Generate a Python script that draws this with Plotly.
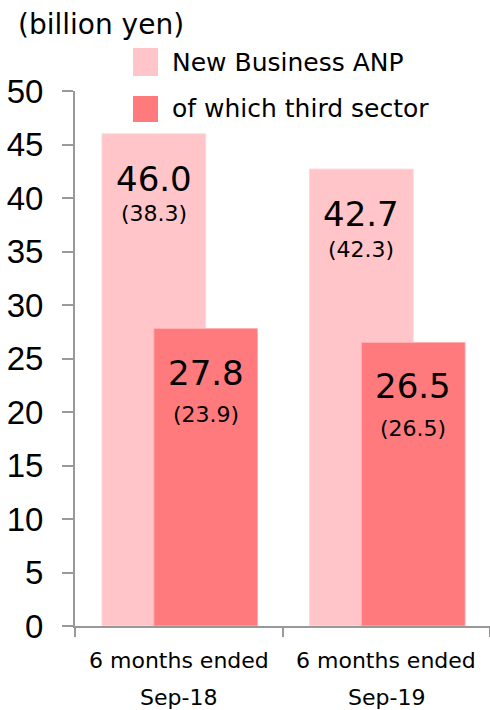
import plotly.graph_objects as go

categories = ["6 months ended Sep-18", "6 months ended Sep-19"]
label_line1 = ["6 months ended", "6 months ended"]
label_line2 = ["Sep-18", "Sep-19"]
anp_values = [46.0, 42.7]
anp_prev = [38.3, 42.3]
third_values = [27.8, 26.5]
third_prev = [23.9, 26.5]
series_names = ["New Business ANP", "of which third sector"]
y_ticks = [0, 5, 10, 15, 20, 25, 30, 35, 40, 45, 50]

LIGHT = "#FFC5C8"
DARK = "#FF7A7C"
TXT = "DejaVu Sans"

W = 0.5
OFF_A = -0.37
OFF_B = -0.12
xi = list(range(len(categories)))

fig = go.Figure()
fig.add_trace(go.Bar(x=xi, y=anp_values, width=[W]*2, offset=[OFF_A]*2,
                     marker=dict(color=LIGHT, line=dict(color="#FFD6D8", width=1)),
                     name=series_names[0], showlegend=False, hoverinfo="skip"))
fig.add_trace(go.Bar(x=xi, y=third_values, width=[W]*2, offset=[OFF_B]*2,
                     marker=dict(color=DARK, line=dict(color="#FFB0B2", width=1)),
                     name=series_names[1], showlegend=False, hoverinfo="skip"))

Wd, H = 490, 710
L, R, T, B = 75, 490, 91, 626
def px(x):
    return (x - L) / (R - L)
def py(y):
    return (B - y) / (B - T)

ann = []
for i in xi:
    ca = i + OFF_A + W / 2
    cb = i + OFF_B + W / 2
    ann.append(dict(x=ca, y=anp_values[i], xref="x", yref="y", text=f"{anp_values[i]:.1f}",
                    showarrow=False, yshift=-45, font=dict(family=TXT, size=34, color="black")))
    ann.append(dict(x=ca, y=anp_values[i], xref="x", yref="y", text=f"({anp_prev[i]:.1f})",
                    showarrow=False, yshift=-80, font=dict(family=TXT, size=22, color="black")))
    ann.append(dict(x=cb, y=third_values[i], xref="x", yref="y", text=f"{third_values[i]:.1f}",
                    showarrow=False, yshift=-44, font=dict(family=TXT, size=34, color="black")))
    ann.append(dict(x=cb, y=third_values[i], xref="x", yref="y", text=f"({third_prev[i]:.1f})",
                    showarrow=False, yshift=-86, font=dict(family=TXT, size=22, color="black")))
    ann.append(dict(x=i, y=0, xref="x", yref="y", text=label_line1[i], showarrow=False,
                    yshift=-34, font=dict(family=TXT, size=22, color="black")))
    ann.append(dict(x=i, y=0, xref="x", yref="y", text=label_line2[i], showarrow=False,
                    yshift=-71, font=dict(family=TXT, size=22, color="black")))

ann.append(dict(x=px(16), y=py(24), xref="paper", yref="paper", text="(billion yen)",
                showarrow=False, xanchor="left", yanchor="middle",
                font=dict(family=TXT, size=28, color="black")))
ann.append(dict(x=px(170), y=py(62), xref="paper", yref="paper", text=series_names[0],
                showarrow=False, xanchor="left", yanchor="middle",
                font=dict(family=TXT, size=25, color="black")))
ann.append(dict(x=px(170), y=py(108), xref="paper", yref="paper", text=series_names[1],
                showarrow=False, xanchor="left", yanchor="middle",
                font=dict(family=TXT, size=25, color="black")))

shapes = [
    dict(type="rect", xref="paper", yref="paper", x0=px(133), x1=px(158), y0=py(76), y1=py(48),
         fillcolor=LIGHT, line=dict(width=0)),
    dict(type="rect", xref="paper", yref="paper", x0=px(133), x1=px(158), y0=py(122), y1=py(96),
         fillcolor=DARK, line=dict(width=0)),
]

fig.update_layout(
    annotations=ann, shapes=shapes,
    width=Wd, height=H,
    margin=dict(l=L, r=Wd - R, t=T, b=H - B, autoexpand=False),
    paper_bgcolor="white", plot_bgcolor="white",
    barmode="overlay",
    xaxis=dict(range=[-0.5, 1.5], tickvals=[-0.5, 0.5, 1.5], showticklabels=False,
               ticks="outside", ticklen=9, tickwidth=2, tickcolor="#999999",
               showline=True, linecolor="#999999", linewidth=2, showgrid=False, zeroline=False,
               fixedrange=True),
    yaxis=dict(range=[0, 50], tickvals=y_ticks, ticks="outside", ticklen=11, tickwidth=2,
               tickcolor="#999999", showline=True, linecolor="#999999", linewidth=2,
               showgrid=False, zeroline=False, ticklabelstandoff=12,
               tickfont=dict(family="Liberation Sans", size=33, color="black")),
)

fig.write_html("out.html", config={"displayModeBar": False},
               post_script="document.body.style.margin='0';")
